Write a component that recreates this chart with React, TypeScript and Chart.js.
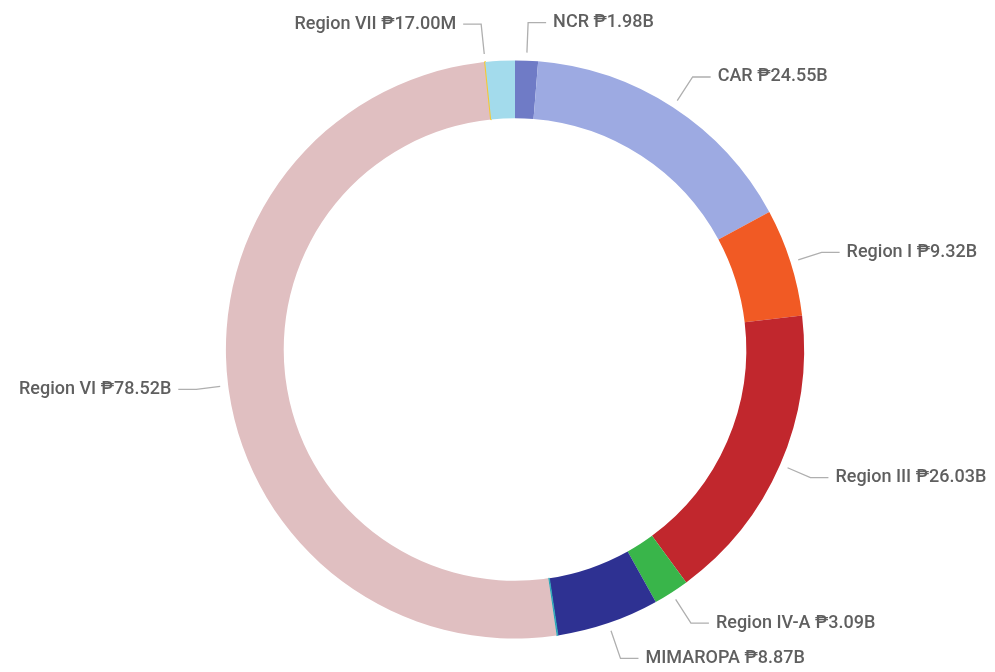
import React, { useEffect, useRef } from "react";
import { Chart, registerables } from "chart.js";

Chart.register(...registerables);

const categories = ["NCR", "CAR", "Region I", "Region III", "Region IV-A", "MIMAROPA", "Region V", "Region VI", "Region VII", "Region VIII"];
const valuesB = [1.98, 24.55, 9.32, 26.03, 3.09, 8.87, 0.12, 78.52, 0.017, 2.55];
const showLabel = [true, true, true, true, true, true, false, true, true, false];
const colors = ["#6F7BC6", "#9DAAE2", "#F15A24", "#C1272D", "#39B54A", "#2E3192", "#2BA6B8", "#E0BFC1", "#F5C932", "#A3DBEC"];
const borderWidths = [0, 0, 0, 0, 0, 0, 0.8, 0, 1.8, 0];

function fmt(v: number): string {
  if (v < 1) return "\u20B1" + (v * 1000).toFixed(2) + "M";
  return "\u20B1" + v.toFixed(2) + "B";
}

const labelPlugin = {
  id: "leaderLabels",
  afterDraw(chart: any) {
    const ctx = chart.ctx;
    const meta = chart.getDatasetMeta(0);
    ctx.save();
    ctx.font = "500 18px Roboto, 'Noto Sans', 'DejaVu Sans', sans-serif";
    ctx.textBaseline = "middle";
    meta.data.forEach((arc: any, i: number) => {
      if (!showLabel[i]) return;
      const p = arc.getProps(["x", "y", "startAngle", "endAngle", "outerRadius"], true);
      const mid = (p.startAngle + p.endAngle) / 2;
      const c = Math.cos(mid);
      const s = Math.sin(mid);
      const r0 = p.outerRadius + 8;
      const r1 = p.outerRadius + 32 + 6 * s * s;
      const x0 = p.x + c * r0;
      const y0 = p.y + s * r0;
      const x1 = p.x + c * r1;
      const y1 = p.y + s * r1;
      const right = c >= 0;
      const x2 = right ? x1 + 18 : x1 - 18;
      ctx.strokeStyle = "#AFAFAF";
      ctx.lineWidth = 1.3;
      ctx.beginPath();
      ctx.moveTo(x0, y0);
      ctx.lineTo(x1, y1);
      ctx.lineTo(x2, y1);
      ctx.stroke();
      ctx.fillStyle = "#5F5F5F";
      ctx.textAlign = right ? "left" : "right";
      const text = categories[i] + " " + fmt(valuesB[i]);
      ctx.fillText(text, right ? x2 + 7 : x2 - 7, y1);
    });
    ctx.restore();
  },
};

export default function App() {
  const ref = useRef<HTMLCanvasElement | null>(null);
  useEffect(() => {
    document.body.style.margin = "0";
    if (!ref.current) return;
    const chart = new Chart(ref.current, {
      type: "doughnut",
      data: {
        labels: categories,
        datasets: [
          {
            data: valuesB,
            backgroundColor: colors,
            borderColor: colors,
            borderWidth: borderWidths,
          },
        ],
      },
      options: {
        animation: false,
        responsive: false,
        cutout: "80%",
        layout: { padding: { top: 59.5, bottom: 32.5, left: 225, right: 190 } },
        plugins: {
          legend: { display: false },
          tooltip: { enabled: false },
        },
      },
      plugins: [labelPlugin],
    });
    return () => chart.destroy();
  }, []);
  return (
    <div style={{ width: 995, height: 672, background: "#ffffff" }}>
      <canvas ref={ref} width={995} height={672} />
    </div>
  );
}
